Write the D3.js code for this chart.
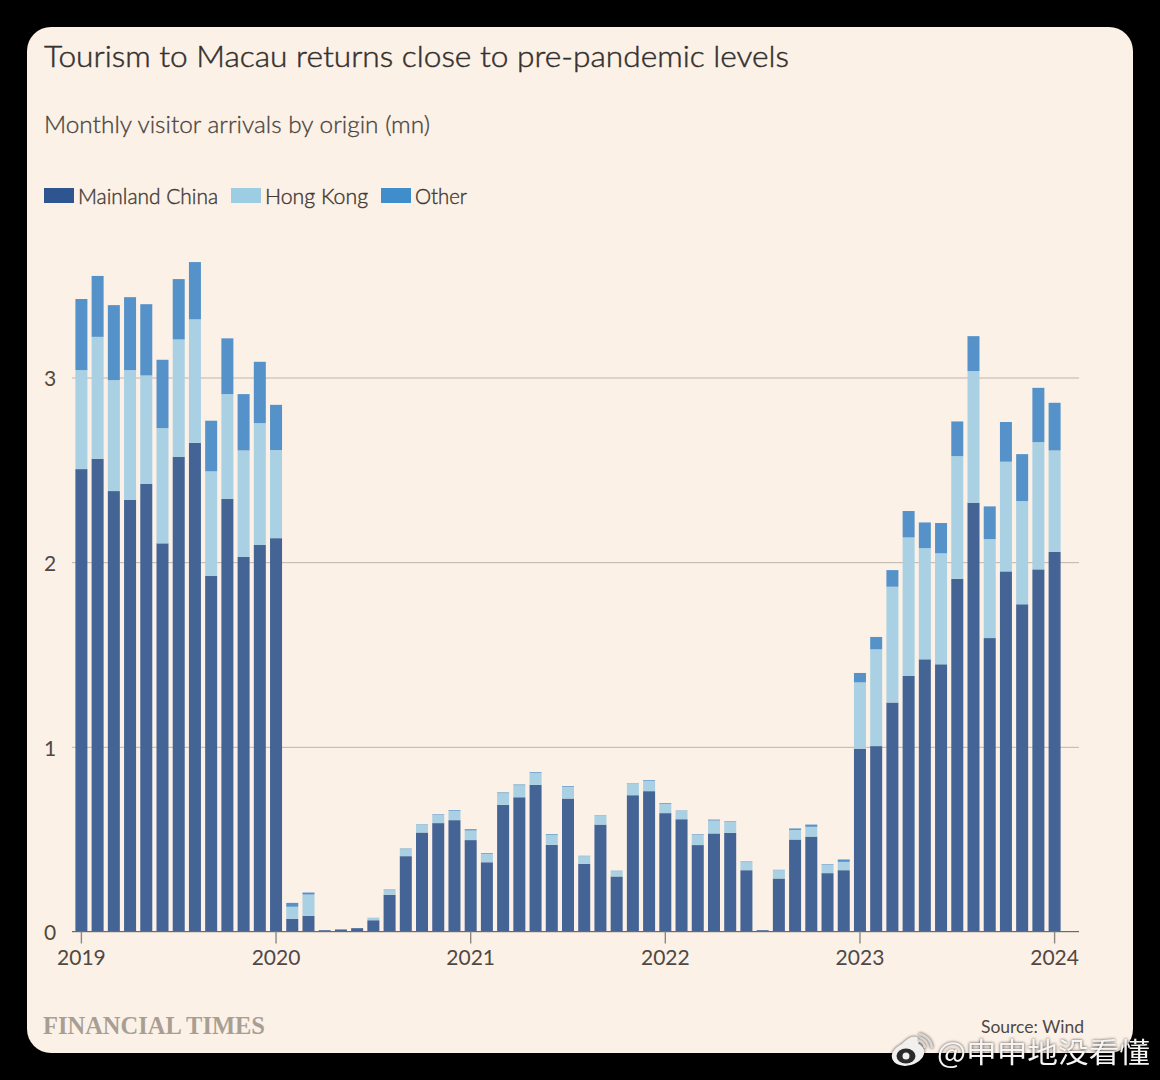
<!DOCTYPE html>
<html><head><meta charset="utf-8">
<script src="https://cdn.jsdelivr.net/npm/d3@7"></script>
<style>html,body{margin:0;padding:0;background:#000}svg{display:block}text{font-family:Lato,sans-serif}</style>
</head><body><div id="c"></div>
<script>
const years = ["2019","2020","2021","2022","2023","2024"];
const seriesNames = ["Mainland China","Hong Kong","Other"];
const yTicks = [0,1,2,3];
const mainland = [2.504,2.56,2.385,2.338,2.425,2.102,2.571,2.646,1.925,2.342,2.028,2.093,2.13,
 0.069,0.085,0.007,0.011,0.018,0.061,0.199,0.408,0.536,0.587,0.603,0.495,
 0.375,0.686,0.727,0.794,0.469,0.72,0.366,0.579,0.298,0.738,0.76,0.641,
 0.608,0.468,0.531,0.534,0.332,0.007,0.287,0.498,0.514,0.316,0.332,0.99,
 1.004,1.24,1.385,1.474,1.447,1.91,2.322,1.589,1.95,1.772,1.961,2.056];
const hongKong = [0.536,0.66,0.601,0.702,0.586,0.624,0.635,0.669,0.567,0.568,0.577,0.66,0.477,
 0.065,0.115,0,0,0,0.012,0.025,0.038,0.043,0.045,0.05,0.052,
 0.045,0.063,0.065,0.065,0.054,0.063,0.042,0.049,0.029,0.063,0.056,0.05,
 0.045,0.056,0.07,0.06,0.044,0,0.045,0.052,0.053,0.046,0.045,0.359,
 0.524,0.627,0.749,0.602,0.601,0.664,0.713,0.536,0.594,0.559,0.689,0.549];
const other = [0.385,0.33,0.406,0.395,0.386,0.37,0.327,0.31,0.274,0.302,0.305,0.332,0.245,
 0.021,0.011,0,0,0,0.001,0.003,0.003,0.002,0.003,0.004,0.007,
 0.004,0.004,0.004,0.004,0.004,0.004,0.002,0.002,0.002,0.002,0.004,0.004,
 0.002,0.003,0.005,0.003,0.003,0,0.002,0.008,0.012,0.003,0.013,0.051,
 0.067,0.09,0.143,0.139,0.164,0.188,0.189,0.177,0.215,0.254,0.294,0.258];

const months = d3.range(61).map(i => {
  const y = 2019 + Math.floor(i/12), m = i%12 + 1;
  return y + "-" + String(m).padStart(2,"0");
});
const legendColors = ["#2f5590","#9dcde3","#408dcc"];
const barColors = ["#446496","#a9d0e3","#5592c9"];

const svg = d3.select("#c").append("svg").attr("width",1160).attr("height",1080);
svg.append("rect").attr("width",1160).attr("height",1080).attr("fill","#000");
svg.append("rect").attr("x",27).attr("y",27).attr("width",1106).attr("height",1026)
  .attr("rx",24).attr("fill","#fcf1e7");

const x = d3.scaleBand().domain(months).range([73.29,1062.71]).paddingInner(0.26).paddingOuter(0.13);
const y = d3.scaleLinear().domain([0,3]).range([931.5,377.5]);

// Headings
svg.append("text").attr("x",44).attr("y",67).attr("font-size",29.6).attr("fill","#33302e")
  .attr("font-weight",300).attr("stroke","#33302e").attr("stroke-width",0.45)
  .attr("textLength",745).attr("lengthAdjust","spacingAndGlyphs")
  .text("Tourism to Macau returns close to pre-pandemic levels");
svg.append("text").attr("x",44).attr("y",133).attr("font-size",23).attr("fill","#4a4440")
  .attr("font-weight",300).attr("stroke","#4a4440").attr("stroke-width",0.3)
  .attr("textLength",386).attr("lengthAdjust","spacingAndGlyphs")
  .text("Monthly visitor arrivals by origin (mn)");

// Legend
const legendX = [44,231,381], legendTextX = [78,265,415], legendTextW = [140,103,52];
seriesNames.forEach((n,i)=>{
  svg.append("rect").attr("x",legendX[i]).attr("y",188).attr("width",30).attr("height",15).attr("fill",legendColors[i]);
  svg.append("text").attr("x",legendTextX[i]).attr("y",204).attr("font-size",21).attr("fill","#3f3a36")
    .attr("font-weight",300).attr("stroke","#3f3a36").attr("stroke-width",0.4)
    .attr("textLength",legendTextW[i]).attr("lengthAdjust","spacingAndGlyphs").text(n);
});

// Y axis and grid
const yAxis = svg.append("g").attr("transform","translate(72,0)")
  .call(d3.axisLeft(y).tickValues(yTicks).tickSize(-1007).tickFormat(d3.format("d")));
yAxis.select(".domain").remove();
yAxis.selectAll(".tick line").attr("stroke","#bdb5ab").attr("stroke-width",1);
yAxis.selectAll(".tick text").attr("x",-28).attr("text-anchor","start").attr("dy","0.4em")
  .attr("font-size",21).attr("fill","#4f4844").style("font-family","Lato,sans-serif");

// Stacked bars
const rows = months.map((m,i)=>({m,a:mainland[i],b:hongKong[i],c:other[i]}));
const stack = d3.stack().keys(["a","b","c"])(rows);
svg.append("g").selectAll("g").data(stack).join("g").attr("fill",(d,i)=>barColors[i])
  .selectAll("rect").data(d=>d).join("rect")
  .attr("x",d=>x(d.data.m)).attr("width",x.bandwidth())
  .attr("y",d=>y(d[1])).attr("height",d=>Math.max(0,y(d[0])-y(d[1])));

// Baseline
svg.append("line").attr("x1",72).attr("x2",1079).attr("y1",y(0)).attr("y2",y(0))
  .attr("stroke","#6f6a66").attr("stroke-width",1.2);

// X axis
const xAxis = svg.append("g").attr("transform",`translate(0,${y(0)})`)
  .call(d3.axisBottom(x).tickValues(years.map(v=>v+"-01")).tickSize(12).tickFormat(d=>d.slice(0,4)));
xAxis.select(".domain").remove();
xAxis.selectAll(".tick line").attr("stroke","#8c8781").attr("stroke-width",1.4);
xAxis.selectAll(".tick text").attr("y",18.5).attr("dy","0.71em").attr("font-size",21)
  .attr("fill","#4f4844").style("font-family","Lato,sans-serif");

// Footer
svg.append("text").attr("x",43).attr("y",1034).attr("font-size",25).attr("font-weight","bold")
  .attr("fill","#a89f94").style("font-family","'Liberation Serif',serif")
  .attr("textLength",222).attr("lengthAdjust","spacingAndGlyphs").text("FINANCIAL TIMES");
svg.append("text").attr("x",1084).attr("y",1033).attr("text-anchor","end").attr("font-size",18)
  .attr("fill","#4f4844").attr("textLength",103).attr("lengthAdjust","spacingAndGlyphs").text("Source: Wind");

// Watermark
const shadow = "drop-shadow(0 0 1.5px rgba(0,0,0,0.75))";
const wm = svg.append("g").style("filter",shadow);
wm.append("ellipse").attr("cx",908).attr("cy",1054).attr("rx",16.5).attr("ry",11.5).attr("transform","rotate(-15 908 1054)").attr("fill","#f1f0ef");
wm.append("path").attr("d","M900 1046 Q910 1034 917 1037 Q921 1042 916 1047 Z").attr("fill","#f1f0ef");
wm.append("ellipse").attr("cx",906).attr("cy",1056).attr("rx",9.5).attr("ry",7.5).attr("fill","#2a2a2a");
wm.append("circle").attr("cx",906).attr("cy",1056).attr("r",3.5).attr("fill","#f1f0ef");
wm.append("path").attr("d","M917 1040 a9 9 0 0 1 8 8").attr("fill","none").attr("stroke","#d8d7d5").attr("stroke-width",2.5);
wm.append("path").attr("d","M919 1034 a15 15 0 0 1 13 14").attr("fill","none").attr("stroke","#d8d7d5").attr("stroke-width",2.5);
svg.append("text").attr("x",937).attr("y",1063).attr("font-size",28.5).attr("fill","#f6f5f4")
  .style("font-family","'Noto Sans CJK SC',sans-serif").style("filter",shadow)
  .attr("textLength",213).attr("lengthAdjust","spacingAndGlyphs").text("@申申地没看懂");
</script></body></html>
